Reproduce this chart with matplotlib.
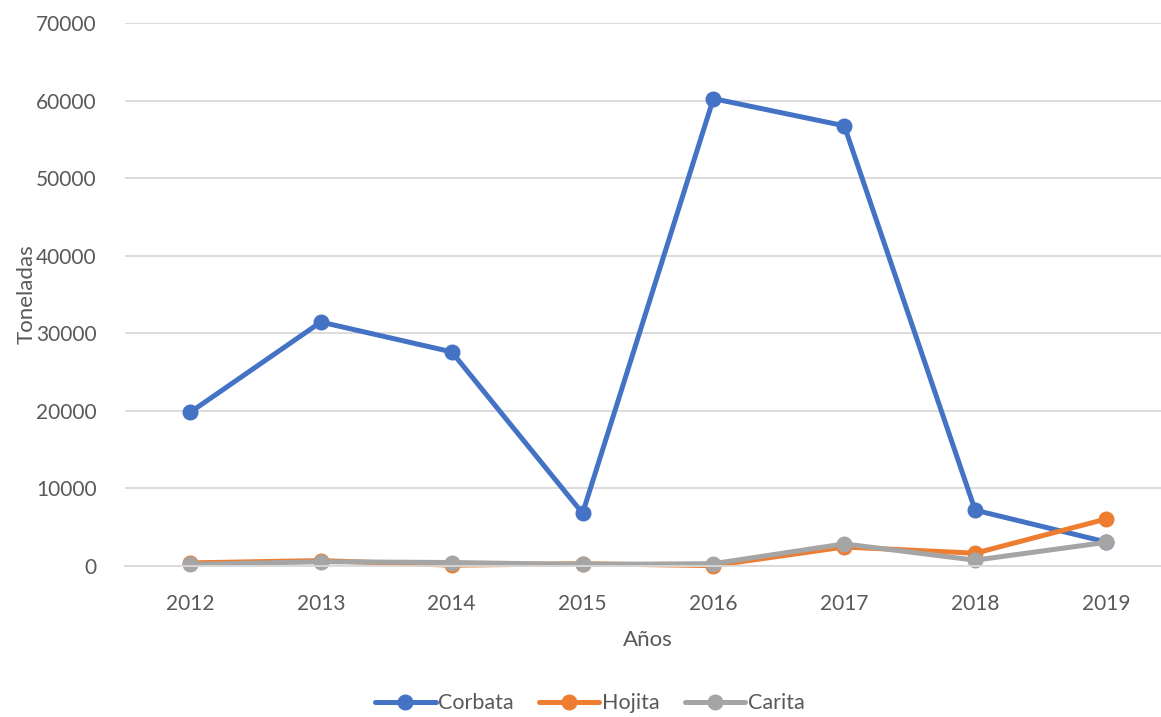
import matplotlib.pyplot as plt

plt.rcParams['font.family'] = ['Lato', 'DejaVu Sans']

years = ['2012', '2013', '2014', '2015', '2016', '2017', '2018', '2019']
corbata = [19800, 31450, 27600, 6800, 60250, 56750, 7200, 3100]
hojita = [400, 700, 100, 300, 50, 2450, 1650, 6050]
carita = [200, 550, 450, 200, 300, 2850, 750, 3050]

series = [
    ('Corbata', corbata, '#4472C4'),
    ('Hojita', hojita, '#ED7D31'),
    ('Carita', carita, '#A5A5A5'),
]

W, H = 1161, 717
fig = plt.figure(figsize=(W / 100, H / 100), dpi=100)
# plot area in pixels: x 124.6..1171.4, y 23..566 (from top)
ax = fig.add_axes([124.6 / W, (H - 566) / H, 1046.8 / W, 543 / H])

x = list(range(len(years)))
for name, vals, col in series:
    ax.plot(x, vals, color=col, lw=3.6, marker='o', markersize=10.5,
            label=name, solid_capstyle='round', clip_on=False)

ax.set_xlim(-0.5, 7.5)
ax.set_ylim(0, 70000)
ax.set_yticks(range(0, 70001, 10000))
ax.set_xticks(x)
ax.set_xticklabels(years)
ax.grid(axis='y', color='#D9D9D9', lw=1.3)
ax.set_axisbelow(True)
for s in ['top', 'right', 'left']:
    ax.spines[s].set_visible(False)
ax.spines['bottom'].set_color('#D9D9D9')
ax.spines['bottom'].set_linewidth(1.3)
ax.tick_params(length=0, labelsize=15, colors='#595959')
ax.tick_params(axis='x', pad=20)
ax.tick_params(axis='y', pad=20)

ax.set_xlabel('Años', fontsize=16, color='#595959', labelpad=12)
ax.set_ylabel('Toneladas', fontsize=16, color='#595959', labelpad=0)

fig.legend(loc='lower center', bbox_to_anchor=(0.508, -0.022), ncol=3,
           frameon=False, fontsize=15.5, labelcolor='#595959',
           handlelength=2.8, columnspacing=1.2, handletextpad=0.1)

fig.savefig('out.png', dpi=100)
